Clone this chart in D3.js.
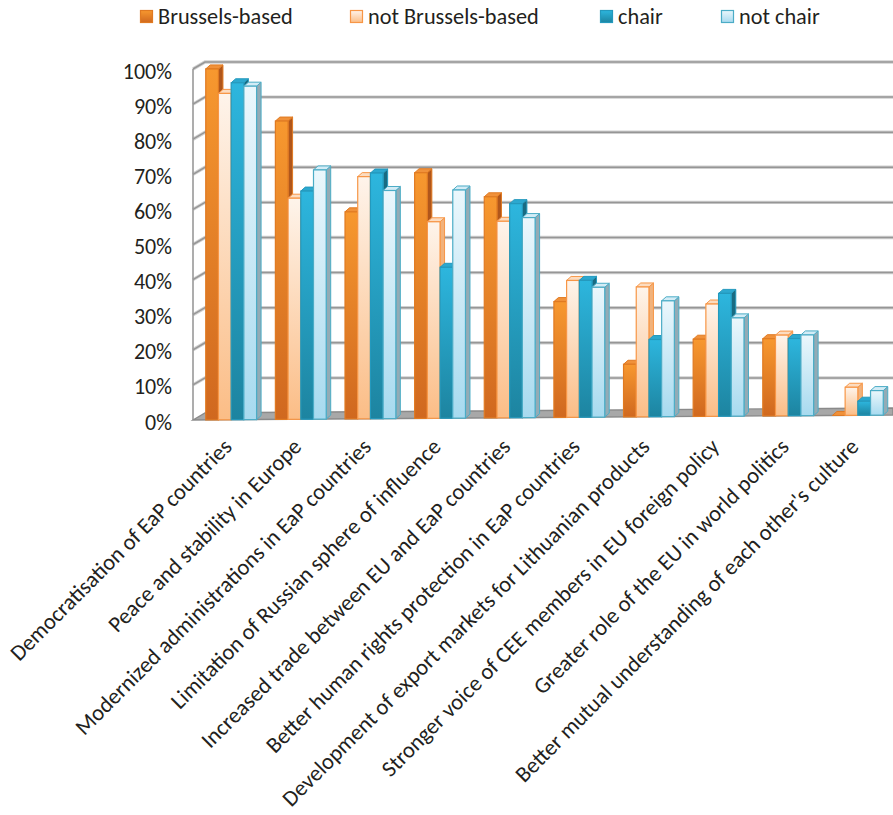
<!DOCTYPE html>
<html>
<head>
<meta charset="utf-8">
<script src="https://cdn.jsdelivr.net/npm/d3@7"></script>
<style>
  html, body { margin: 0; padding: 0; background: #fff; }
  svg { display: block; }
  text { font-family: Carlito, Calibri, Lato, "Open Sans", sans-serif; fill: #231f20; }
</style>
</head>
<body>
<svg id="chart" width="893" height="815"></svg>
<script>
// Expected benefits of the Eastern Partnership, by respondent group (% of respondents)
const categories = [
  "Democratisation of EaP countries",
  "Peace and stability in Europe",
  "Modernized administrations in EaP countries",
  "Limitation of Russian sphere of influence",
  "Increased trade between EU and EaP countries",
  "Better human rights protection in EaP countries",
  "Development of export markets for Lithuanian products",
  "Stronger voice of CEE members in EU foreign policy",
  "Greater role of the EU in world politics",
  "Better mutual understanding of each other's culture"
];
const seriesNames = ["Brussels-based", "not Brussels-based", "chair", "not chair"];
const brusselsBased    = [100, 85, 59, 70, 63, 33, 15, 22, 22, 0];
const notBrusselsBased = [93, 63, 69, 56, 56, 39, 37, 32, 23, 8];
const chair            = [96, 65, 70, 43, 61, 39, 22, 35, 22, 4];
const notChair         = [95, 71, 65, 65, 57, 37, 33, 28, 23, 7];
const yTicks = [0, 10, 20, 30, 40, 50, 60, 70, 80, 90, 100];

const seriesValues = [brusselsBased, notBrusselsBased, chair, notChair];

// colour set per series: front gradient (top, bottom), side, top face, outline
const styles = [
  { top: "#f7982f", bottom: "#d0681f", side: "#b0561b", cap: "#f0913a", stroke: "#e07a22" },
  { top: "#fef4eb", bottom: "#fbbd86", side: "#f1b27c", cap: "#fcdcc0", stroke: "#f79646" },
  { top: "#2db6de", bottom: "#1d84a0", side: "#196b82", cap: "#2ca8cf", stroke: "#2499bd" },
  { top: "#ebf7fc", bottom: "#a7daef", side: "#93abb5", cap: "#d3ecf6", stroke: "#4bacc6" }
];

const svg = d3.select("#chart");
const defs = svg.append("defs");
styles.forEach((s, i) => {
  const g = defs.append("linearGradient")
    .attr("id", "grad" + i).attr("x1", 0).attr("y1", 0).attr("x2", 0).attr("y2", 1);
  g.append("stop").attr("offset", "0%").attr("stop-color", s.top);
  g.append("stop").attr("offset", "100%").attr("stop-color", s.bottom);
});

// plot geometry: front plane, back wall depth offset, bar depth offset
const plotLeft = 193, plotRight = 893;
const wallDX = 12, wallDY = -7;
const barDX = 4.5, barDY = -4;

const y = d3.scaleLinear().domain([0, 100]).range([420, 69]);
// slight perspective: the floor rises a little toward the right
const tilt = d3.scaleLinear().domain([plotLeft, plotRight]).range([0, -5]);

const x0 = d3.scaleBand().domain(categories).range([196, 893])
  .paddingInner(0.27).paddingOuter(0.14);
const x1 = d3.scaleBand().domain(seriesNames).range([0, x0.bandwidth()]);

// ---- walls and gridlines ----
const grid = svg.append("g");
yTicks.filter(v => v > 0).forEach(v => {
  const yf = y(v), yb = y(v) + wallDY;
  const d = `M${plotLeft},${yf}L${plotLeft + wallDX},${yb}L${plotRight},${yb}`;
  grid.append("path").attr("d", d).attr("fill", "none")
    .attr("stroke", "#d0d0d0").attr("stroke-width", 3.4);
  grid.append("path").attr("d", d).attr("fill", "none")
    .attr("stroke", "#969696").attr("stroke-width", 1.5);
});
// side wall front edge
grid.append("line")
  .attr("x1", plotLeft).attr("x2", plotLeft)
  .attr("y1", y(100)).attr("y2", y(0))
  .attr("stroke", "#999").attr("stroke-width", 1.6);

// floor
const fl = plotLeft, fr = plotRight;
const floorPts = [
  [fl, y(0) + tilt(fl)],
  [fl + wallDX, y(0) + wallDY + tilt(fl + wallDX)],
  [fr, y(0) + wallDY + tilt(fr)],
  [fr, y(0) + tilt(fr)]
];
svg.append("polygon")
  .attr("points", floorPts.map(p => p.join(",")).join(" "))
  .attr("fill", "#a8a8a8").attr("stroke", "#8a8a8a").attr("stroke-width", 1.4);

// ---- bars (3D boxes), drawn left to right ----
const bars = svg.append("g");
categories.forEach((cat, ci) => {
  seriesNames.forEach((name, si) => {
    const v = seriesValues[si][ci];
    const st = styles[si];
    const bx = x0(cat) + x1(name);
    const w = x1.bandwidth();
    const base = y(0) + tilt(bx);
    const top = y(v) + tilt(bx);
    const g = bars.append("g");
    // right side face
    g.append("polygon")
      .attr("points", [[bx + w, top], [bx + w + barDX, top + barDY],
                       [bx + w + barDX, base + barDY], [bx + w, base]].map(p => p.join(",")).join(" "))
      .attr("fill", st.side).attr("stroke", st.stroke).attr("stroke-width", 1)
      .attr("stroke-linejoin", "round");
    // top face
    g.append("polygon")
      .attr("points", [[bx, top], [bx + barDX, top + barDY],
                       [bx + w + barDX, top + barDY], [bx + w, top]].map(p => p.join(",")).join(" "))
      .attr("fill", st.cap).attr("stroke", st.stroke).attr("stroke-width", 1)
      .attr("stroke-linejoin", "round");
    // front face
    if (v > 0) {
      g.append("rect")
        .attr("x", bx).attr("y", top)
        .attr("width", w).attr("height", base - top)
        .attr("fill", `url(#grad${si})`)
        .attr("stroke", st.stroke).attr("stroke-width", 1.2);
    }
  });
});

// ---- y axis labels ----
const yAxis = d3.axisLeft(y).tickValues(yTicks).tickFormat(d => d + "%").tickSize(0).tickPadding(0);
const ya = svg.append("g").attr("transform", "translate(172,2)").call(yAxis);
ya.select(".domain").remove();
ya.selectAll("text").attr("font-size", 22).style("font-family", null).attr("fill", "#231f20");

// ---- category labels, rotated ----
svg.append("g").selectAll("text")
  .data(categories).join("text")
  .attr("transform", d => `translate(${x0(d) + x0.bandwidth() / 2 + 2},${448}) rotate(-45)`)
  .attr("text-anchor", "end")
  .attr("font-size", 22.5)
  .text(d => d);

// ---- legend ----
const legendX = [140, 350, 600, 721];
const legend = svg.append("g");
seriesNames.forEach((name, i) => {
  const st = styles[i];
  legend.append("rect")
    .attr("x", legendX[i] + 0.5).attr("y", 10.5)
    .attr("width", 12).attr("height", 12)
    .attr("fill", `url(#grad${i})`).attr("stroke", st.stroke).attr("stroke-width", 1.2);
  legend.append("text")
    .attr("x", legendX[i] + 18).attr("y", 24)
    .attr("font-size", 22.3)
    .text(name);
});
</script>
</body>
</html>
